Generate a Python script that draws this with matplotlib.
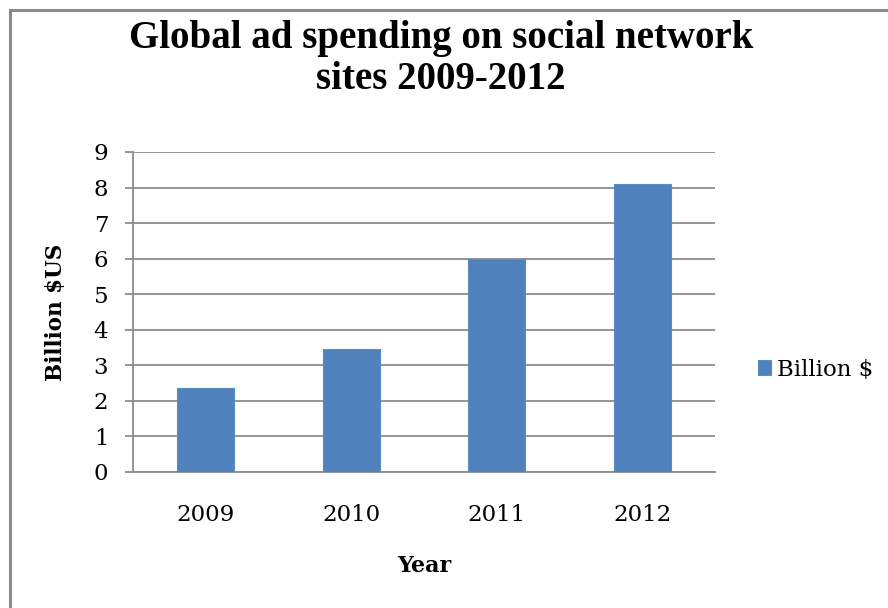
import matplotlib
matplotlib.use("Agg")
import matplotlib.pyplot as plt
from matplotlib.patches import Rectangle

years = ["2009", "2010", "2011", "2012"]
spending = [2.35, 3.45, 6.0, 8.1]
series_name = "Billion $"
title_lines = ["Global ad spending on social network", "sites 2009-2012"]
y_label = "Billion $US"
x_label = "Year"
y_ticks = list(range(0, 10))

plt.rcParams["font.family"] = ["DejaVu Serif"]

BAR = "#4F81BD"
GRID = "#8C8C8C"
W, H = 888, 608

fig = plt.figure(figsize=(W / 100, H / 100), dpi=100)
fig.patch.set_facecolor("white")

# outer chart-area frame (runs off the right and bottom edges)
fig.patches.append(Rectangle((9.5 / W, -0.1), 1.2, 1 - 10.5 / H + 0.1,
                             transform=fig.transFigure, fill=False,
                             edgecolor="#8A8A8A", linewidth=2.2))

ax = fig.add_axes([133 / W, 1 - 472 / H, (715 - 133) / W, (472 - 152) / H])

x = range(len(years))
ax.bar(x, spending, width=0.39, color=BAR, edgecolor="#5B8CC6",
       linewidth=0.8, label=series_name, zorder=3)

ax.set_xlim(-0.5, len(years) - 0.5)
ax.set_ylim(0, 9)
ax.set_yticks(y_ticks)
ax.set_xticks(list(x))
ax.set_xticklabels(years)

ax.yaxis.grid(True, color=GRID, linewidth=1.3, zorder=0)
ax.set_axisbelow(True)
for side in ("top", "right"):
    ax.spines[side].set_visible(False)
for side in ("left", "bottom"):
    ax.spines[side].set_color(GRID)
    ax.spines[side].set_linewidth(1.3)

ax.tick_params(axis="y", length=5.8, width=1.3, color=GRID, labelsize=16.5, pad=12)
ax.tick_params(axis="x", length=0, labelsize=16.5, pad=23)

ax.set_ylabel(y_label, fontsize=15.5, fontweight="bold", labelpad=19)
ax.set_xlabel(x_label, fontsize=16, fontweight="bold", labelpad=21)

# two-line chart title, each line placed on its own baseline
for line, base in zip(title_lines, (48, 89)):
    fig.text(441 / W, 1 - base / H, line, ha="center", va="baseline",
             fontsize=28, fontweight="bold", family="Liberation Serif")

ax.legend(loc="center left", bbox_to_anchor=(1.058, 0.32), frameon=False,
          fontsize=16.5, handlelength=0.57, handleheight=0.57,
          handletextpad=0.26, borderaxespad=0)

fig.savefig("out.png", dpi=100, facecolor="white")
